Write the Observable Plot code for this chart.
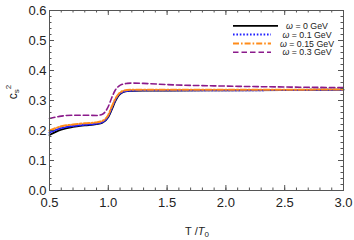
<!DOCTYPE html>
<html><head><meta charset="utf-8">
<script src="https://cdn.jsdelivr.net/npm/d3@7"></script>
<script src="https://cdn.jsdelivr.net/npm/@observablehq/plot@0.6"></script>
<style>body{margin:0;background:#fff}</style>
</head><body><div id="chart"></div>
<script>
const T      = [0.5,0.6,0.7,0.8,0.9,0.95,1.0,1.03,1.06,1.09,1.12,1.16,1.2,1.3,1.5,2.0,2.5,3.0];
const w0     = [0.185,0.203,0.212,0.217,0.221,0.226,0.245,0.270,0.298,0.318,0.327,0.331,0.332,0.333,0.333,0.334,0.335,0.336];
const w01    = [0.193,0.208,0.215,0.219,0.223,0.228,0.248,0.275,0.302,0.320,0.328,0.332,0.333,0.334,0.334,0.334,0.335,0.336];
const w015   = [0.200,0.214,0.220,0.224,0.227,0.232,0.252,0.280,0.306,0.323,0.331,0.335,0.336,0.336,0.336,0.336,0.336,0.337];
const w03    = [0.240,0.248,0.251,0.251,0.250,0.254,0.280,0.310,0.335,0.348,0.354,0.357,0.358,0.357,0.353,0.348,0.345,0.343];
const seriesNames = ["ω = 0 GeV","ω = 0.1 GeV","ω = 0.15 GeV","ω = 0.3 GeV"];
const xTicks = [0.5,1.0,1.5,2.0,2.5,3.0];
const yTicks = [0.0,0.1,0.2,0.3,0.4,0.5,0.6];
const xMinor = d3.range(5,31).map(d=>d/10);
const yMinor = d3.range(0,31).map(d=>d/50);

const styles = [
  {stroke:"#000000", dash:null, w:1.8},
  {stroke:"#1f1fff", dash:"1.6,1.8", w:2},
  {stroke:"#ff8c1a", dash:"6,2,1.6,2", w:2},
  {stroke:"#8b1a8b", dash:"5.5,3", w:1.6}
];
const allSeries = [w0,w01,w015,w03];
const xSpan = 2.5, ySpan = 0.6;
const pxW = 294, pxH = 180;
const majX = 5*ySpan/pxH, minX = 2.5*ySpan/pxH;
const majY = 5*xSpan/pxW, minY = 2.5*xSpan/pxW;
const frameC = "#555";

const lineMarks = allSeries.map((s,i)=>Plot.line(T.map((t,j)=>({t, v:s[j]})),
  {x:"t", y:"v", curve:"monotone-x", stroke:styles[i].stroke, strokeWidth:styles[i].w,
   strokeDasharray:styles[i].dash}));

const plot = Plot.plot({
  width:354, height:240,
  marginLeft:49, marginRight:11, marginTop:10, marginBottom:50,
  x:{domain:[0.5,3.0]}, y:{domain:[0,0.6]},
  style:{fontFamily:"Liberation Sans, Arial, sans-serif", background:"#fff"},
  marks:[
    Plot.axisX({ticks:xTicks, tickSize:0, tickPadding:7, tickFormat:d3.format(".1f"), fontSize:13, label:null, color:"#222"}),
    Plot.axisY({ticks:yTicks, tickSize:0, tickPadding:3, tickFormat:d3.format(".1f"), fontSize:13, label:null, color:"#222"}),
    ...lineMarks,
    Plot.ruleX(xMinor, {x:d=>d, y1:0, y2:minX, stroke:frameC}),
    Plot.ruleX(xTicks, {x:d=>d, y1:0, y2:majX, stroke:frameC}),
    Plot.ruleX(xMinor, {x:d=>d, y1:0.6, y2:0.6-minX, stroke:frameC}),
    Plot.ruleX(xTicks, {x:d=>d, y1:0.6, y2:0.6-majX, stroke:frameC}),
    Plot.ruleY(yMinor, {y:d=>d, x1:0.5, x2:0.5+minY, stroke:frameC}),
    Plot.ruleY(yTicks, {y:d=>d, x1:0.5, x2:0.5+majY, stroke:frameC}),
    Plot.ruleY(yMinor, {y:d=>d, x1:3.0, x2:3.0-minY, stroke:frameC}),
    Plot.ruleY(yTicks, {y:d=>d, x1:3.0, x2:3.0-majY, stroke:frameC}),
    Plot.frame({stroke:frameC, strokeWidth:1})
  ]
});
document.getElementById("chart").appendChild(plot);
const svg = d3.select(plot);
// x label
const xl = svg.append("text").attr("x",197).attr("y",235).attr("text-anchor","middle")
  .attr("font-size",11).attr("fill","#222").attr("font-family","Liberation Sans, Arial, sans-serif");
xl.append("tspan").text("T /");
xl.append("tspan").attr("font-style","italic").text("T");
xl.append("tspan").attr("font-size",8).attr("dy",2).text("0");
// y label
const yl = svg.append("text").attr("transform","translate(17,92) rotate(-90)").attr("text-anchor","middle")
  .attr("font-size",12).attr("fill","#222").attr("font-family","Liberation Sans, Arial, sans-serif");
yl.append("tspan").text("c");
yl.append("tspan").attr("font-size",8).attr("dy",2).text("s");
yl.append("tspan").attr("font-size",8).attr("dy",-8).text("2");
// legend
const rows = [25.8,34.6,43.4,52.2];
seriesNames.forEach((n,i)=>{
  svg.append("line").attr("x1",233).attr("x2",i==0?278:271).attr("y1",rows[i]).attr("y2",rows[i])
    .attr("stroke",styles[i].stroke).attr("stroke-width",styles[i].w)
    .attr("stroke-dasharray",styles[i].dash);
  const t = svg.append("text").attr("x",307).attr("y",rows[i]+3.2).attr("text-anchor","middle")
    .attr("font-size",8.8).attr("fill","#222").attr("font-family","Liberation Sans, Arial, sans-serif");
  t.append("tspan").attr("font-style","italic").text("ω");
  t.append("tspan").text(n.slice(1));
});
</script></body></html>
